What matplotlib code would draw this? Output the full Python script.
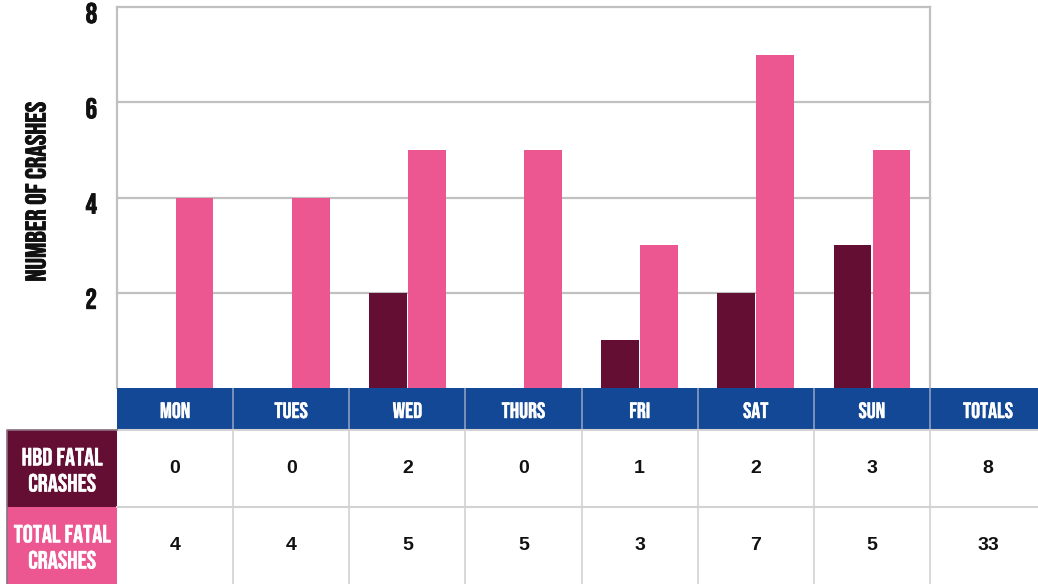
import matplotlib
matplotlib.use("Agg")
import matplotlib.pyplot as plt
from matplotlib.patches import Rectangle
from matplotlib import font_manager
from matplotlib.transforms import ScaledTranslation, blended_transform_factory
import matplotlib.patheffects as pe
import numpy as np

days = ["MON", "TUES", "WED", "THURS", "FRI", "SAT", "SUN"]
hbd_fatal = [0, 0, 2, 0, 1, 2, 3]
total_fatal = [4, 4, 5, 5, 3, 7, 5]
totals_label = "TOTALS"
hbd_total = sum(hbd_fatal)
all_total = sum(total_fatal)
row_labels = ["HBD FATAL\nCRASHES", "TOTAL FATAL\nCRASHES"]
y_ticks = [2, 4, 6, 8]
y_label = "NUMBER OF CRASHES"

DARK = "#630E32"
PINK = "#EC5792"
BLUE = "#134896"
GRID = "#C0C0C0"
SEP = "#D2D2D2"

names = {f.name for f in font_manager.fontManager.ttflist}
def pick(cands, default="DejaVu Sans"):
    for c in cands:
        if c in names:
            return c
    return default
COND = pick(["Bebas Neue", "Oswald", "Open Sans Condensed", "IBM Plex Sans Condensed"])
REG = pick(["Arimo", "Liberation Sans", "Roboto"])

def thick(color, w=0.7):
    return [pe.withStroke(linewidth=w, foreground=color)]

W, H = 1038, 584
fig = plt.figure(figsize=(W / 100, H / 100), dpi=100)

x0, x1 = 117, 930
ytop, ybase = 7, 388
colw = (x1 - x0) / len(days)

ax = fig.add_axes([x0 / W, (H - ybase) / H, (x1 - x0) / W, (ybase - ytop) / H])
ax.set_xlim(-0.5, len(days) - 0.5)
ax.set_ylim(0, 8)
x = np.arange(len(days))
bw = 0.325
off = 0.168
ax.bar(x - off, hbd_fatal, width=bw, color=DARK, zorder=3)
ax.bar(x + off, total_fatal, width=bw, color=PINK, zorder=3)
for v in y_ticks:
    ax.axhline(v, color=GRID, lw=1.6, zorder=1, clip_on=False)
for s in ["top", "bottom"]:
    ax.spines[s].set_visible(False)
for s in ["left", "right"]:
    ax.spines[s].set_color(GRID)
    ax.spines[s].set_linewidth(1.6)
ax.set_xticks([])
ax.set_yticks(y_ticks)
ax.set_yticklabels([])
ax.tick_params(axis="y", length=0)
shift = ScaledTranslation(-20 / 100, -6 / 100, fig.dpi_scale_trans)
btr = blended_transform_factory(ax.transAxes, ax.transData) + shift
for v in y_ticks:
    ax.text(0, v, str(v), transform=btr, ha="right", va="center",
            fontfamily=COND, fontsize=20.5, color="#111111",
            path_effects=thick("#111111", 0.6), clip_on=False)
ax.set_ylabel(y_label, fontfamily=COND, fontsize=20.5, color="#111111",
              path_effects=thick("#111111", 0.6))
ax.yaxis.set_label_coords(-0.088, 0.515)

th = H - ybase
tx = fig.add_axes([0, 0, 1, th / H])
tx.set_xlim(-0.5 - x0 / colw, -0.5 + (W - x0) / colw)
tx.set_ylim(th, 0)
tx.axis("off")
left = -0.5
ncol = len(days) + 1
hdr_b = 42
r1_b = 119
tx.add_patch(Rectangle((left, 0), ncol + 1, hdr_b, color=BLUE, lw=0))
headers = days + [totals_label]
for i, h in enumerate(headers):
    tx.text(i, hdr_b / 2 + 1, h, color="white", fontfamily=COND,
            fontsize=16, ha="center", va="center", path_effects=thick("white", 0.3))
    if i > 0:
        xb = i - 0.5
        tx.plot([xb, xb], [0, hdr_b], color="#8C9DC0", lw=1.2)
        tx.plot([xb, xb], [hdr_b, th], color=SEP, lw=1.2)
tx.plot([left, left + ncol + 1], [hdr_b, hdr_b], color=SEP, lw=1.5)
tx.plot([left, left + ncol + 1], [r1_b, r1_b], color=SEP, lw=1.5)

lx = -0.5 - (x0 - 7) / colw
tx.add_patch(Rectangle((lx, hdr_b), -0.5 - lx, r1_b - hdr_b, color=DARK, lw=0))
tx.add_patch(Rectangle((lx, r1_b), -0.5 - lx, th - r1_b, color=PINK, lw=0))
tx.plot([lx, lx, -0.5], [th, hdr_b, hdr_b], color="#8A7080", lw=1.2)
lc = (lx - 0.5) / 2
tx.text(lc, (hdr_b + r1_b) / 2 + 1, row_labels[0], color="white", fontfamily=COND,
        fontsize=18, ha="center", va="center", linespacing=1.45,
        path_effects=thick("white", 0.3))
tx.text(lc, (r1_b + th) / 2 + 1, row_labels[1], color="white", fontfamily=COND,
        fontsize=18, ha="center", va="center", linespacing=1.45,
        path_effects=thick("white", 0.3))

row1 = hbd_fatal + [hbd_total]
row2 = total_fatal + [all_total]
for i in range(ncol):
    tx.text(i, (hdr_b + r1_b) / 2, str(row1[i]), fontfamily=REG, fontweight="bold",
            fontsize=14, ha="center", va="center", color="#111111")
    tx.text(i, (r1_b + th) / 2, str(row2[i]), fontfamily=REG, fontweight="bold",
            fontsize=14, ha="center", va="center", color="#111111")

fig.savefig("out.png", dpi=100)
